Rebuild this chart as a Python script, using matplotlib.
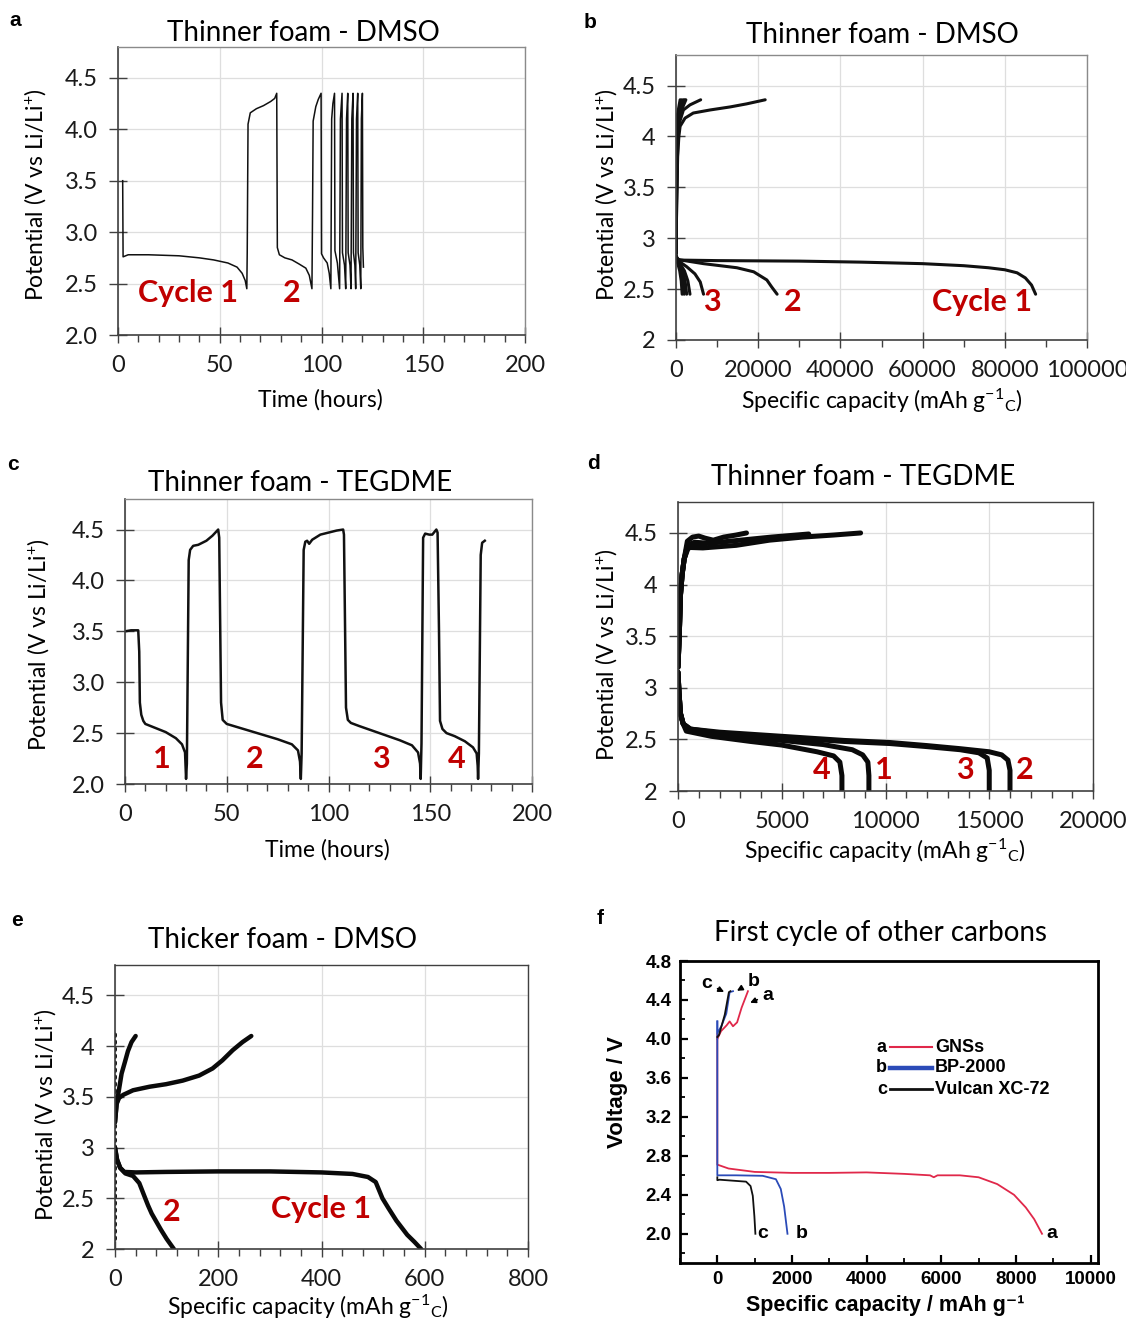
import matplotlib
matplotlib.use("Agg")
import matplotlib.pyplot as plt
from matplotlib.ticker import MultipleLocator, FormatStrFormatter, FuncFormatter

plt.rcParams['font.family'] = ['Lato', 'DejaVu Sans']
plt.rcParams['mathtext.fontset'] = 'custom'
plt.rcParams['mathtext.rm'] = 'Lato'
plt.rcParams['mathtext.it'] = 'Lato:italic'
plt.rcParams['mathtext.bf'] = 'Lato:bold'

RED = '#C00000'

# ---------------- (a) Thinner foam - DMSO, potential vs time ----------------
a_time = [2.3, 2.5, 5.0, 15, 30, 40, 47, 54, 58.5, 61, 62.5, 63.3,
          63.5, 63.9, 65, 68, 71.5, 75, 77, 78,
          78.3, 79.3, 82, 85.5, 89, 92.3, 94, 95.3,
          95.6, 95.9, 97.2, 98.4, 99.8,
          100.0, 101, 102.8, 103.8, 104.6,
          105.0, 105.6, 106.4,
          106.6, 107.8, 108.9,
          109.3, 110.1,
          110.3, 111.3, 111.9,
          112.3, 112.9,
          113.1, 114.0, 114.5,
          114.9, 115.5,
          115.7, 116.4, 116.8,
          117.2, 117.8,
          118.0, 118.8, 119.3,
          119.6, 120.1,
          120.3, 120.6]
a_volt = [3.50, 2.76, 2.78, 2.78, 2.77, 2.75, 2.73, 2.70, 2.66, 2.60, 2.53, 2.45,
          2.80, 4.05, 4.16, 4.20, 4.23, 4.27, 4.30, 4.35,
          2.85, 2.78, 2.75, 2.73, 2.69, 2.65, 2.58, 2.45,
          3.20, 4.08, 4.22, 4.29, 4.35,
          2.79, 2.75, 2.70, 2.60, 2.45,
          4.10, 4.25, 4.35,
          2.82, 2.70, 2.45,
          4.10, 4.35,
          2.80, 2.68, 2.45,
          4.10, 4.35,
          2.80, 2.68, 2.45,
          4.10, 4.35,
          2.80, 2.68, 2.45,
          4.10, 4.35,
          2.80, 2.68, 2.45,
          4.10, 4.35,
          2.85, 2.66]

# ---------------- (b) Thinner foam - DMSO, potential vs capacity ----------------
b_dis1_cap = [0, 300, 1000, 10000, 30000, 45000, 60000, 70000, 76000, 80000, 83000, 85000, 86500, 87500]
b_dis1_v = [2.84, 2.80, 2.785, 2.78, 2.775, 2.765, 2.75, 2.73, 2.71, 2.69, 2.66, 2.61, 2.54, 2.45]
b_dis2_cap = [0, 500, 6700, 14800, 18900, 22100, 23300, 24600]
b_dis2_v = [2.82, 2.79, 2.75, 2.71, 2.67, 2.59, 2.52, 2.45]
b_dis3_cap = [0, 500, 2600, 4600, 5900, 6700]
b_dis3_v = [2.82, 2.78, 2.72, 2.65, 2.57, 2.45]
b_dis_short_end = [3400, 2600, 2000, 1500]
b_chg1_cap = [0, 150, 400, 700, 1000, 2200, 4200, 8300, 13200, 17200, 21700]
b_chg1_v = [2.85, 3.3, 3.8, 4.0, 4.1, 4.18, 4.23, 4.26, 4.29, 4.32, 4.36]
b_chg2_cap = [0, 150, 350, 570, 1800, 3400, 6000]
b_chg2_v = [2.85, 3.3, 3.8, 4.1, 4.26, 4.31, 4.36]
b_chg_short_end = [2400, 2100, 1800, 1400, 1000]

# ---------------- (c) Thinner foam - TEGDME, potential vs time ----------------
c_time = [0, 3, 6.5, 7.0, 7.3, 8, 9, 10, 15, 20, 25, 28, 29.5, 30,
          30.4, 31.3, 32, 33.5, 36, 40, 43, 45.8,
          46.3, 47.2, 48, 50, 55, 65, 75, 82, 85, 86, 86.4,
          86.8, 87.8, 88.6, 89.5, 90.5, 92, 96, 100, 104, 107.2,
          107.6, 108.6, 109.5, 111, 115, 125, 135, 141, 144, 145, 145.3,
          145.7, 146.5, 147.5, 149.5, 151, 153, 153.6,
          154.3, 154.8, 156, 158, 162, 167, 171, 172.8, 173.3, 173.5,
          173.9, 174.8, 175.5, 176.8]
c_volt = [3.50, 3.51, 3.51, 3.30, 2.80, 2.68, 2.62, 2.59, 2.55, 2.51, 2.45, 2.39, 2.31, 2.05,
          2.20, 4.20, 4.30, 4.34, 4.35, 4.39, 4.44, 4.50,
          4.42, 2.80, 2.63, 2.59, 2.56, 2.50, 2.44, 2.39, 2.33, 2.22, 2.05,
          2.30, 4.30, 4.38, 4.39, 4.36, 4.40, 4.45, 4.47, 4.49, 4.50,
          4.45, 2.75, 2.63, 2.60, 2.57, 2.50, 2.43, 2.38, 2.31, 2.20, 2.05,
          2.40, 4.42, 4.46, 4.45, 4.45, 4.50, 4.47,
          3.50, 2.62, 2.54, 2.50, 2.47, 2.42, 2.36, 2.30, 2.18, 2.05,
          2.30, 4.25, 4.37, 4.39]

# ---------------- (d) Thinner foam - TEGDME, potential vs capacity ----------------
d_dis_cap = {
    1: [0, 50, 120, 250, 500, 2000, 5000, 7000, 8400, 8900, 9150, 9200, 9200],
    2: [0, 50, 120, 250, 600, 2000, 5000, 8000, 10200, 12000, 13600, 15000, 15600, 15900, 16000, 16000],
    3: [0, 50, 120, 250, 600, 2000, 5000, 8000, 10200, 12000, 13600, 14500, 14900, 15000, 15000],
    4: [0, 50, 120, 250, 400, 1600, 3500, 5000, 6700, 7500, 7800, 7900, 7900],
}
d_dis_v = {
    1: [3.15, 2.95, 2.75, 2.65, 2.59, 2.54, 2.49, 2.45, 2.40, 2.35, 2.28, 2.15, 2.00],
    2: [3.15, 2.95, 2.75, 2.65, 2.60, 2.57, 2.53, 2.49, 2.47, 2.44, 2.41, 2.38, 2.35, 2.30, 2.20, 2.00],
    3: [3.15, 2.95, 2.75, 2.65, 2.60, 2.56, 2.52, 2.48, 2.46, 2.43, 2.40, 2.37, 2.32, 2.20, 2.00],
    4: [3.15, 2.95, 2.75, 2.65, 2.58, 2.53, 2.48, 2.445, 2.38, 2.34, 2.28, 2.15, 2.00],
}
d_chg_cap = {
    1: [0, 60, 120, 200, 300, 450, 800, 1500, 3000, 4500, 6300],
    2: [0, 60, 120, 200, 300, 500, 1200, 2800, 4400, 6000, 7500, 8800],
    3: [0, 60, 120, 200, 300, 450, 700, 1000, 1300, 1700, 2200, 2800, 3300],
    4: [0, 60, 120, 200, 300, 450, 800, 1300],
}
d_chg_v = {
    1: [3.2, 3.5, 3.9, 4.1, 4.25, 4.38, 4.41, 4.40, 4.43, 4.46, 4.49],
    2: [3.2, 3.5, 3.9, 4.1, 4.25, 4.36, 4.355, 4.38, 4.43, 4.46, 4.48, 4.50],
    3: [3.2, 3.5, 3.9, 4.1, 4.25, 4.42, 4.46, 4.47, 4.45, 4.43, 4.46, 4.48, 4.50],
    4: [3.2, 3.5, 3.9, 4.1, 4.25, 4.35, 4.37, 4.38],
}

# ---------------- (e) Thicker foam - DMSO, potential vs capacity ----------------
e_dis1_cap = [0, 4, 10, 18, 40, 100, 200, 300, 400, 460, 490, 505, 518, 530, 545, 566, 580, 593]
e_dis1_v = [3.0, 2.88, 2.80, 2.76, 2.755, 2.76, 2.765, 2.765, 2.755, 2.74, 2.71, 2.66, 2.50, 2.40, 2.28, 2.14, 2.07, 2.00]
e_dis2_cap = [0, 4, 10, 20, 35, 47, 57, 64, 71, 80, 89, 100, 114]
e_dis2_v = [3.0, 2.88, 2.80, 2.745, 2.72, 2.65, 2.52, 2.43, 2.35, 2.27, 2.19, 2.10, 2.00]
e_chg1_cap = [0, 3, 8, 16, 35, 67, 99, 131, 163, 189, 208, 228, 247, 264]
e_chg1_v = [3.25, 3.43, 3.49, 3.52, 3.565, 3.60, 3.625, 3.66, 3.71, 3.78, 3.86, 3.96, 4.04, 4.10]
e_chg2_cap = [0, 3, 6.4, 12.8, 19, 25, 32, 40]
e_chg2_v = [3.25, 3.42, 3.53, 3.73, 3.84, 3.95, 4.04, 4.10]
e_rest_v = [2.10, 4.13]

# ---------------- (f) First cycle of other carbons ----------------
f_names = ['GNSs', 'BP-2000', 'Vulcan XC-72']
f_letters = ['a', 'b', 'c']
f_colors = ['#E0284A', '#2B4BB8', '#111111']
f_dis_cap = [
    [0, 0, 300, 1000, 2000, 3000, 4000, 5000, 5700, 5800, 5900, 6500, 7000, 7500, 7950, 8265, 8490, 8700],
    [0, 0, 500, 1215, 1570, 1700, 1790, 1880],
    [0, 0, 60, 770, 890, 950, 993, 1020],
]
f_dis_v = [
    [4.05, 2.71, 2.67, 2.635, 2.625, 2.625, 2.63, 2.615, 2.60, 2.58, 2.60, 2.60, 2.58, 2.51, 2.40, 2.27, 2.15, 2.00],
    [4.18, 2.60, 2.60, 2.595, 2.56, 2.46, 2.28, 2.00],
    [2.58, 2.55, 2.555, 2.535, 2.49, 2.39, 2.18, 2.00],
]
f_chg_cap = [
    [0, 100, 250, 330, 420, 530, 650, 820],
    [0, 0, 107, 240, 330, 420],
    [0, 45, 200, 310, 350],
]
f_chg_v = [
    [4.00, 4.08, 4.14, 4.18, 4.13, 4.17, 4.32, 4.49],
    [4.18, 4.06, 4.13, 4.26, 4.48, 4.49],
    [4.02, 4.04, 4.25, 4.48, 4.49],
]

# ---------------------------------------------------------------------------
W, H = 1126, 1320
fig = plt.figure(figsize=(W / 100, H / 100), dpi=100)


def px_axes(l, r, t, b):
    return fig.add_axes([l / W, 1 - b / H, (r - l) / W, (b - t) / H])


def ftext(x, y, s, **kw):
    return fig.text(x / W, 1 - y / H, s, **kw)


def general_fmt(v, pos):
    return ('%g' % v)


def excel_style(ax, xlim, xmajor, xminor, yfmt):
    ax.set_xlim(*xlim)
    ax.set_ylim(2, 4.8)
    ax.xaxis.set_major_locator(MultipleLocator(xmajor))
    ax.xaxis.set_minor_locator(MultipleLocator(xminor))
    ax.set_yticks([2, 2.5, 3, 3.5, 4, 4.5])
    ax.yaxis.set_major_formatter(yfmt)
    ax.xaxis.set_major_formatter(FuncFormatter(general_fmt))
    ax.grid(True, which='major', color='#dedede', lw=0.9)
    ax.set_axisbelow(True)
    ax.tick_params(axis='y', which='major', direction='inout', length=13, width=1.0,
                   color='#404040', labelsize=17, pad=8, labelcolor='#1a1a1a')
    ax.tick_params(axis='x', which='major', direction='inout', length=11, width=1.0,
                   color='#404040', labelsize=17, pad=9, labelcolor='#1a1a1a')
    ax.tick_params(axis='x', which='minor', direction='out', length=5, width=1.0, color='#404040')
    for s in ['left', 'bottom']:
        ax.spines[s].set_color('#404040')
        ax.spines[s].set_linewidth(1.2)
    for s in ['top', 'right']:
        ax.spines[s].set_color('#8a8a8a')
        ax.spines[s].set_linewidth(1.0)


one_dec = FormatStrFormatter('%.1f')
gen = FuncFormatter(general_fmt)
ylab = 'Potential (V vs Li/Li$^{+}$)'
caplab = 'Specific capacity (mAh g$^{-1}$$_{\\mathrm{C}}$)'
TITLE_FS = 20
LAB_FS = 16.5
CYC_FS = 22

# ---- (a)
axa = px_axes(118, 525, 47, 335)
excel_style(axa, (0, 200), 50, 10, one_dec)
axa.plot(a_time, a_volt, color='#111111', lw=1.1)
axa.text(34.5, 2.41, 'Cycle 1', color=RED, fontsize=CYC_FS, fontweight='bold', ha='center', va='center')
axa.text(85.2, 2.41, '2', color=RED, fontsize=CYC_FS, fontweight='bold', ha='center', va='center')
ftext(303, 33, 'Thinner foam - DMSO', fontsize=TITLE_FS, ha='center', va='center')
ftext(320, 400, 'Time (hours)', fontsize=LAB_FS, ha='center', va='center')
ftext(35, 195, ylab, fontsize=LAB_FS, ha='center', va='center', rotation=90)

# ---- (b)
axb = px_axes(676, 1087, 55, 340)
excel_style(axb, (0, 100000), 20000, 10000, gen)
kb = dict(color='#111111', lw=2.2, solid_capstyle='round')
axb.plot(b_dis1_cap, b_dis1_v, **kb)
axb.plot(b_dis2_cap, b_dis2_v, **kb)
axb.plot(b_dis3_cap, b_dis3_v, **kb)
for end in b_dis_short_end:
    axb.plot([0, 0.25 * end, 0.6 * end, 0.85 * end, end], [2.82, 2.76, 2.68, 2.58, 2.45], **kb)
axb.plot(b_chg1_cap, b_chg1_v, **kb)
axb.plot(b_chg2_cap, b_chg2_v, **kb)
for end in b_chg_short_end:
    axb.plot([0, 0.1 * end, 0.3 * end, end], [2.85, 3.9, 4.2, 4.36], **kb)
axb.text(8800, 2.37, '3', color=RED, fontsize=CYC_FS, fontweight='bold', ha='center', va='center')
axb.text(28400, 2.37, '2', color=RED, fontsize=CYC_FS, fontweight='bold', ha='center', va='center')
axb.text(74400, 2.37, 'Cycle 1', color=RED, fontsize=CYC_FS, fontweight='bold', ha='center', va='center')
ftext(882, 35, 'Thinner foam - DMSO', fontsize=TITLE_FS, ha='center', va='center')
ftext(882, 401, caplab, fontsize=LAB_FS, ha='center', va='center')
ftext(606, 195, ylab, fontsize=LAB_FS, ha='center', va='center', rotation=90)

# ---- (c)
axc = px_axes(125, 532, 499, 784)
excel_style(axc, (0, 200), 50, 10, one_dec)
axc.plot(c_time, c_volt, color='#111111', lw=1.8)
for lbl, x in zip(['1', '2', '3', '4'], [18.2, 63.9, 125.8, 163.1]):
    axc.text(x, 2.25, lbl, color=RED, fontsize=CYC_FS, fontweight='bold', ha='center', va='center')
ftext(300, 483, 'Thinner foam - TEGDME', fontsize=TITLE_FS, ha='center', va='center')
ftext(327, 850, 'Time (hours)', fontsize=LAB_FS, ha='center', va='center')
ftext(38, 645, ylab, fontsize=LAB_FS, ha='center', va='center', rotation=90)

# ---- (d)
axd = px_axes(678, 1093, 502, 791)
excel_style(axd, (0, 20000), 5000, 1000, gen)
for spn in ['top', 'right']:
    axd.spines[spn].set_color('#404040')
kd = dict(color='#0a0a0a', lw=3.6, solid_capstyle='round', solid_joinstyle='round')
for k in (1, 2, 3, 4):
    axd.plot(d_dis_cap[k], d_dis_v[k], **kd)
    axd.plot(d_chg_cap[k], d_chg_v[k], **kd)
for lbl, x in zip(['4', '1', '3', '2'], [6940, 9930, 13830, 16720]):
    axd.text(x, 2.2, lbl, color=RED, fontsize=CYC_FS, fontweight='bold', ha='center', va='center')
ftext(863, 477, 'Thinner foam - TEGDME', fontsize=TITLE_FS, ha='center', va='center')
ftext(885, 851, caplab, fontsize=LAB_FS, ha='center', va='center')
ftext(606, 655, ylab, fontsize=LAB_FS, ha='center', va='center', rotation=90)

# ---- (e)
axe = px_axes(115, 528, 965, 1249)
excel_style(axe, (0, 800), 200, 40, gen)
for spn in ['top', 'right']:
    axe.spines[spn].set_color('#404040')
ke = dict(color='#0a0a0a', lw=3.2, solid_capstyle='round')
axe.plot([0, 0], e_rest_v, color='#0a0a0a', lw=2.8, ls=(0, (0.4, 1.4)), dash_capstyle='round')
axe.plot(e_dis1_cap, e_dis1_v, **ke)
axe.plot(e_dis2_cap, e_dis2_v, **ke)
axe.plot(e_chg1_cap, e_chg1_v, **ke)
axe.plot(e_chg2_cap, e_chg2_v, **ke)
axe.text(110, 2.36, '2', color=RED, fontsize=CYC_FS, fontweight='bold', ha='center', va='center')
axe.text(399, 2.39, 'Cycle 1', color=RED, fontsize=CYC_FS, fontweight='bold', ha='center', va='center')
ftext(282, 940, 'Thicker foam - DMSO', fontsize=TITLE_FS, ha='center', va='center')
ftext(308, 1307, caplab, fontsize=LAB_FS, ha='center', va='center')
ftext(45, 1115, ylab, fontsize=LAB_FS, ha='center', va='center', rotation=90)

# ---- (f)
ARIAL = ['Liberation Sans', 'DejaVu Sans']
axf = px_axes(680, 1098, 961, 1263)
axf.set_xlim(-1000, 10200)
axf.set_ylim(1.7, 4.8)
xt = [0, 2000, 4000, 6000, 8000, 10000]
yt = [2.0, 2.4, 2.8, 3.2, 3.6, 4.0, 4.4, 4.8]
axf.set_xticks(xt, [str(v) for v in xt], fontfamily=ARIAL, fontweight='bold', fontsize=13.5)
axf.set_yticks(yt, ['%.1f' % v for v in yt], fontfamily=ARIAL, fontweight='bold', fontsize=13.5)
axf.xaxis.set_minor_locator(MultipleLocator(1000))
axf.yaxis.set_minor_locator(MultipleLocator(0.2))
axf.tick_params(which='major', direction='in', length=6, width=1.6, pad=6)
axf.tick_params(which='minor', direction='in', length=3.5, width=1.3)
for s in axf.spines.values():
    s.set_linewidth(2.0)
    s.set_color('black')
for i in range(3):
    axf.plot(f_dis_cap[i], f_dis_v[i], color=f_colors[i], lw=1.3)
    axf.plot(f_chg_cap[i], f_chg_v[i], color=f_colors[i], lw=1.3)
# end-of-discharge letters
for x, s in zip([8960, 2250, 1210], f_letters):
    axf.text(x, 2.0, s, fontfamily=ARIAL, fontweight='bold', fontsize=14, ha='center', va='center')
# arrows to the charge ends
arrow_kw = dict(arrowstyle='-|>', color='black', lw=1.2, mutation_scale=8)
axf.annotate('c', xy=(250, 4.47), xytext=(-280, 4.57), fontfamily=ARIAL, fontweight='bold',
             fontsize=14, ha='center', va='center', arrowprops=arrow_kw)
axf.annotate('b', xy=(460, 4.48), xytext=(960, 4.59), fontfamily=ARIAL, fontweight='bold',
             fontsize=14, ha='center', va='center', arrowprops=arrow_kw)
axf.annotate('a', xy=(810, 4.36), xytext=(1360, 4.45), fontfamily=ARIAL, fontweight='bold',
             fontsize=14, ha='center', va='center', arrowprops=arrow_kw)
# legend drawn as letter, sample line, name
for i, (yy, lw) in enumerate(zip([0.715, 0.646, 0.576], [1.5, 3.2, 2.0])):
    axf.text(0.495, yy, f_letters[i], transform=axf.transAxes, fontfamily=ARIAL,
             fontweight='bold', fontsize=13, ha='right', va='center')
    axf.plot([0.503, 0.603], [yy, yy], transform=axf.transAxes, color=f_colors[i], lw=lw)
    axf.text(0.610, yy, f_names[i], transform=axf.transAxes, fontfamily=ARIAL,
             fontweight='bold', fontsize=13, ha='left', va='center')
ftext(880, 933, 'First cycle of other carbons', fontsize=TITLE_FS, ha='center', va='center')
ftext(885, 1305, 'Specific capacity / mAh g\u207b\u00b9', fontsize=15.5, fontweight='bold',
      fontfamily=ARIAL, ha='center', va='center')
ftext(618, 1092, 'Voltage / V', fontsize=16, fontweight='bold', fontfamily=ARIAL,
      ha='center', va='center', rotation=90)

# ---- panel letters
for s, x, y in [('a', 15, 20), ('b', 590, 22), ('c', 13, 465), ('d', 593, 463), ('e', 17, 920), ('f', 600, 918)]:
    ftext(x, y, s, fontsize=15, fontweight='bold', fontfamily=ARIAL, ha='center', va='center')

fig.savefig('out.png', dpi=100, facecolor='white')
